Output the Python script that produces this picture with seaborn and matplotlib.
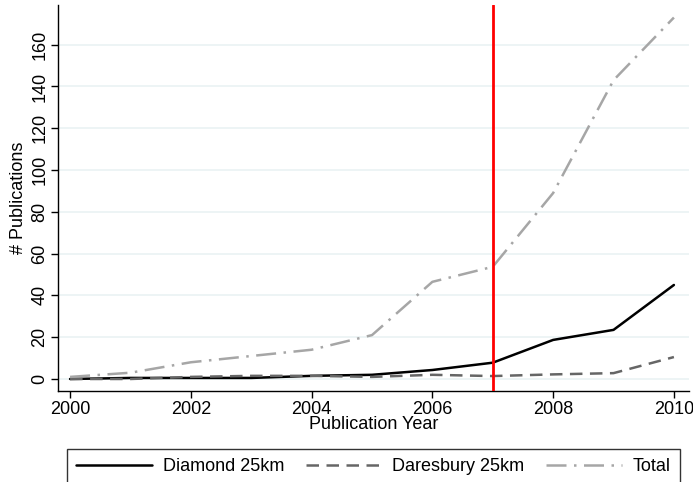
import matplotlib
matplotlib.use("Agg")
import matplotlib.pyplot as plt
import seaborn as sns
import pandas as pd

years = [2000, 2001, 2002, 2003, 2004, 2005, 2006, 2007, 2008, 2009, 2010]
diamond = [0, 0.5, 0.5, 0.5, 1.5, 2, 4.3, 7.8, 18.7, 23.5, 45]
daresbury = [0, 0, 1, 1.5, 1.5, 1, 2, 1.4, 2.2, 2.8, 10.5]
total = [1, 3, 8, 11, 14, 21, 46.5, 53.7, 89, 143, 173]
series_names = ["Diamond 25km", "Daresbury 25km", "Total"]
yticks = [0, 20, 40, 60, 80, 100, 120, 140, 160]
xticks = [2000, 2002, 2004, 2006, 2008, 2010]

sns.set_theme(style="white")
plt.rcParams['font.family'] = ['Liberation Sans', 'DejaVu Sans']
plt.rcParams['text.color'] = 'black'
plt.rcParams['axes.labelcolor'] = 'black'
plt.rcParams['xtick.color'] = 'black'
plt.rcParams['ytick.color'] = 'black'

df = pd.DataFrame({"year": years * 3,
                   "value": diamond + daresbury + total,
                   "series": [series_names[0]] * 11 + [series_names[1]] * 11 + [series_names[2]] * 11})

fig = plt.figure(figsize=(6.93, 4.82), dpi=100)
ax = fig.add_axes([58/693, 1 - 391/482, (689-58)/693, (391-5)/482])

for y in yticks:
    ax.axhline(y, color="#eaf2f3", lw=1.2, zorder=0)

styles = {series_names[0]: dict(color="black", ls="-", lw=1.8),
          series_names[1]: dict(color="#666666", ls=(0, (5, 3)), lw=1.8),
          series_names[2]: dict(color="#a6a6a6", ls=(0, (8, 3, 1, 3)), lw=1.8)}
for name in series_names:
    sub = df[df.series == name]
    sns.lineplot(data=sub, x="year", y="value", ax=ax, label=name, **styles[name])

ax.axvline(2007, color="red", lw=2, zorder=5)

ax.set_xlim(1999.8, 2010.25)
ax.set_ylim(-5.75, 179)
ax.set_xticks(xticks)
ax.set_yticks(yticks)
ax.tick_params(axis="both", labelsize=13, length=5, width=1, color="black", direction="out",
               bottom=True, left=True, pad=2, labelcolor="black")
for lab in ax.get_yticklabels():
    lab.set_rotation(90)
    lab.set_va("center")
ax.set_xlabel("Publication Year", fontsize=13, labelpad=-1)
ax.set_ylabel("# Publications", fontsize=13, labelpad=3)
for s in ["top", "right"]:
    ax.spines[s].set_visible(False)
for s in ["left", "bottom"]:
    ax.spines[s].set_color("black")
    ax.spines[s].set_linewidth(1)

leg = ax.legend(loc="upper left", bbox_to_anchor=(67/693, 0, (680-67)/693, 1 - 449/482),
                bbox_transform=fig.transFigure, ncol=3, mode="expand", frameon=True,
                fontsize=13, fancybox=False, borderaxespad=0, handlelength=4.2,
                handletextpad=0.6, borderpad=0.5, columnspacing=2)
leg.get_frame().set_edgecolor("black")
leg.get_frame().set_linewidth(1)

fig.savefig("out.png", dpi=100)
